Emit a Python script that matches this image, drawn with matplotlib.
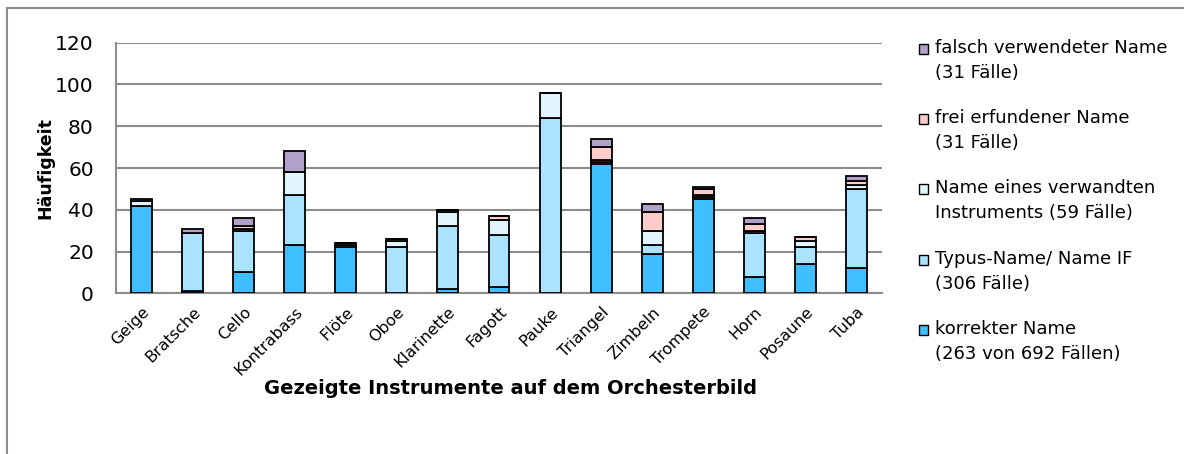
import numpy as np
import matplotlib.pyplot as plt
from matplotlib.patches import Rectangle
from matplotlib.lines import Line2D

instrumente = ["Geige", "Bratsche", "Cello", "Kontrabass", "Flöte", "Oboe",
               "Klarinette", "Fagott", "Pauke", "Triangel", "Zimbeln",
               "Trompete", "Horn", "Posaune", "Tuba"]

korrekt = [42, 1, 10, 23, 22, 0, 2, 3, 0, 62, 19, 45, 8, 14, 12]
typus = [0, 28, 20, 24, 0, 22, 30, 25, 84, 1, 4, 1, 21, 8, 38]
verwandt = [2, 0, 1, 11, 1, 3, 7, 7, 12, 1, 7, 1, 1, 3, 2]
erfunden = [0, 0, 1, 0, 1, 1, 1, 2, 0, 6, 9, 3, 3, 2, 2]
falsch = [1, 2, 4, 10, 0, 0, 0, 0, 0, 4, 4, 1, 3, 0, 2]

serien = [
    (korrekt, "#3fbfff", "korrekter Name\n(263 von 692 Fällen)"),
    (typus, "#aae2ff", "Typus-Name/ Name IF\n(306 Fälle)"),
    (verwandt, "#e1f5ff", "Name eines verwandten\nInstruments (59 Fälle)"),
    (erfunden, "#ffcccc", "frei erfundener Name\n(31 Fälle)"),
    (falsch, "#b1a0c7", "falsch verwendeter Name\n(31 Fälle)"),
]

W, H = 1184, 454
fig = plt.figure(figsize=(W / 100, H / 100), dpi=100)
ax = fig.add_axes([116 / W, 1 - 293.3 / H, (882 - 116) / W, (293.3 - 42.7) / H])

x = np.arange(len(instrumente))
unten = np.zeros(len(instrumente))
for werte, farbe, _ in serien:
    ax.bar(x, werte, width=0.41, bottom=unten, color=farbe,
           edgecolor="black", linewidth=1.3, zorder=3)
    unten += np.array(werte)

ax.set_xlim(-0.5, len(instrumente) - 0.5)
ax.set_ylim(0, 120)
ax.set_yticks(np.arange(0, 121, 20))
ax.grid(axis="y", color="#8c8c8c", linewidth=1.5, zorder=0)
ax.set_axisbelow(True)
for s in ["top", "right"]:
    ax.spines[s].set_visible(False)
for s in ["left", "bottom"]:
    ax.spines[s].set_color("#8c8c8c")
    ax.spines[s].set_linewidth(1.5)
ax.tick_params(axis="y", length=0, labelsize=14.5, pad=16)
ax.tick_params(axis="x", length=0, labelsize=11.5, pad=8)
ax.set_xticks(x)
ax.set_xticklabels(instrumente, rotation=45, ha="right", rotation_mode="anchor")

ax.set_ylabel("Häufigkeit", fontsize=12.5, fontweight="bold")
ax.yaxis.set_label_coords(-0.08, 0.5)
fig.text(510 / W, 1 - 388 / H, "Gezeigte Instrumente auf dem Orchesterbild",
         fontsize=14, fontweight="bold", ha="center", va="center")

# Legende von Hand: Kästchen auf Höhe der ersten Zeile
for i, (werte, farbe, text) in enumerate(reversed(serien)):
    yc = 49 + 70.2 * i
    fig.add_artist(Rectangle((919 / W, 1 - (yc + 5) / H), 9 / W, 10 / H,
                             transform=fig.transFigure, facecolor=farbe,
                             edgecolor="black", linewidth=1.0))
    fig.text(935 / W, 1 - (yc - 10) / H, text, fontsize=13, ha="left",
             va="top", linespacing=1.5)

# Rahmen um das Diagramm
fig.add_artist(Line2D([7 / W, 7 / W], [0, 1 - 8 / H], transform=fig.transFigure,
                      color="#8c8c8c", linewidth=1.5))
fig.add_artist(Line2D([7 / W, 1], [1 - 8 / H, 1 - 8 / H], transform=fig.transFigure,
                      color="#8c8c8c", linewidth=1.5))

fig.savefig("out.png", dpi=100)
